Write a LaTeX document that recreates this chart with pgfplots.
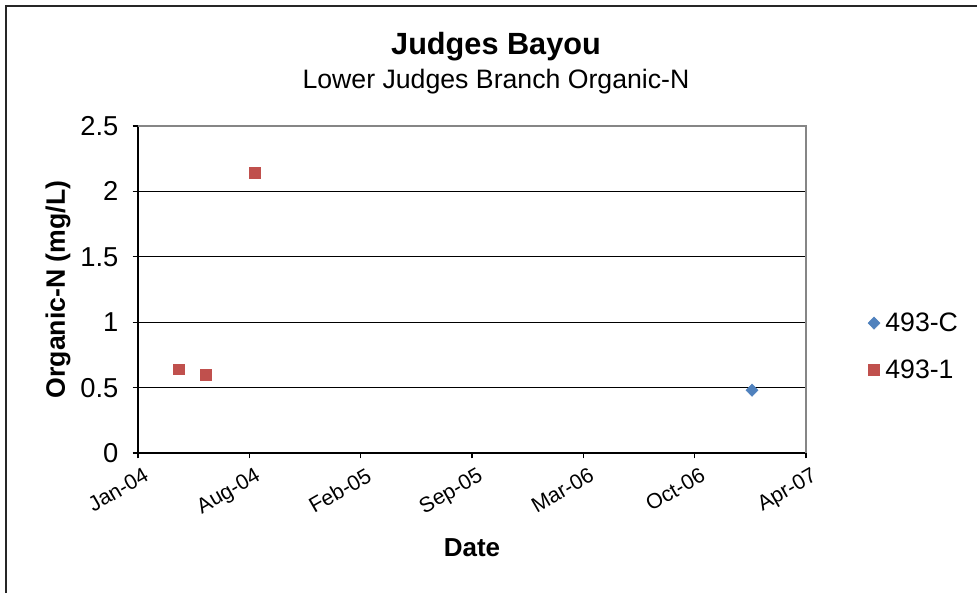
\documentclass[border=0pt]{standalone}
\usepackage{pgfplots}
\pgfplotsset{compat=1.18}
\usepackage{fontspec}
\setmainfont{Liberation Sans}
\definecolor{serBlue}{HTML}{4F81BD}
\definecolor{serRed}{HTML}{C0504D}
\definecolor{frameGray}{HTML}{868686}
\begin{document}
\begin{tikzpicture}
\useasboundingbox (0pt,0pt) rectangle (732.75pt,444.75pt);
\draw[line width=1.2pt, black!85] (4.5pt,0pt) -- (4.5pt,440.25pt) -- (732.75pt,440.25pt);
\node[font=\bfseries\fontsize{23}{27}\selectfont, anchor=base] at (372pt,403.5pt) {Judges Bayou};
\node[font=\fontsize{20}{24}\selectfont, anchor=base] at (372pt,378.5pt) {Lower Judges Branch Organic-N};
\begin{axis}[
  at={(103.5pt,105pt)}, anchor=south west,
  scale only axis, width=501pt, height=245.25pt,
  xmin=0, xmax=1188, ymin=0, ymax=2.5,
  axis x line=bottom, axis y line=left,
  axis line style={-, black, line width=0.9pt},
  tick align=outside, major tick length=4pt,
  tick style={black, line width=0.8pt},
  xtick={0,198,396,594,792,990,1188},
  xticklabels={Jan-04,Aug-04,Feb-05,Sep-05,Mar-06,Oct-06,Apr-07},
  xticklabel style={font=\fontsize{16}{18}\selectfont, rotate=30, anchor=north east, inner sep=1pt, yshift=-6pt, xshift=1pt},
  ytick={0.5,1,1.5,2},
  yticklabels={0.5,1,1.5,2},
  extra y ticks={0,2.5},
  extra y tick labels={0,2.5},
  extra y tick style={grid=none},
  yticklabel style={font=\fontsize{20.5}{23}\selectfont, inner sep=2pt, xshift=-8.5pt},
  ymajorgrids,
  major grid style={black, line width=0.9pt},
  xlabel={Date},
  ylabel={Organic-N (mg/L)},
  every axis x label/.style={at={(axis description cs:0.5,-0.29)}, anchor=center, font=\bfseries\fontsize{19.5}{22}\selectfont},
  every axis y label/.style={at={(axis description cs:-0.1198,0.5)}, anchor=center, rotate=90, font=\bfseries\fontsize{20}{23}\selectfont},
  legend style={at={(axis description cs:1.0925,0.326)}, anchor=west, draw=none, fill=none,
    font=\fontsize{20}{23}\selectfont, row sep=15.5pt, column sep=2pt, inner sep=0pt},
  legend cell align=left,
  legend image code/.code={\draw[#1] plot coordinates {(0.2cm,0cm)};},
  clip=false,
]
\draw[frameGray, line width=0.9pt] (rel axis cs:0,1) -- (rel axis cs:1,1) -- (rel axis cs:1,0);
\addplot[only marks, mark=diamond*, mark size=4.6pt, color=serBlue, mark options={fill=serBlue, draw=serBlue, xscale=1.3}]
  coordinates {(1092,0.48)};
\addlegendentry{493-C}
\addplot[only marks, mark=square*, mark size=4pt, color=serRed, mark options={fill=serRed, draw=serRed}]
  coordinates {(73,0.64) (121,0.60) (208,2.14)};
\addlegendentry{493-1}
\end{axis}
\end{tikzpicture}
\end{document}
